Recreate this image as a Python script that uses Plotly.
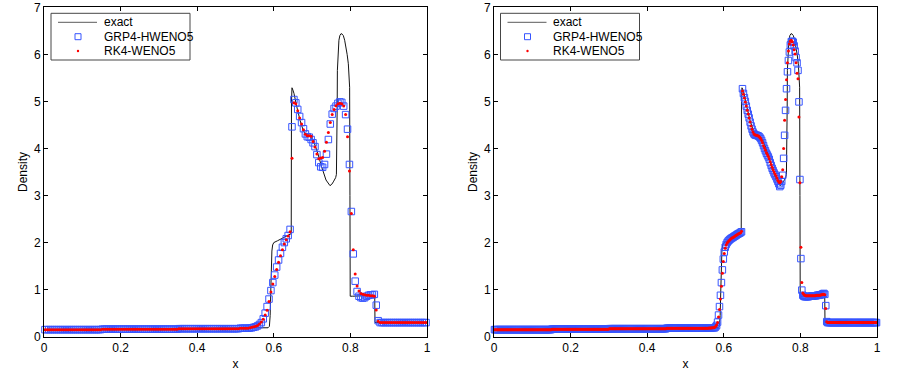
import numpy as np
import plotly.graph_objects as go

# ---------------- data ----------------
N_LEFT = 200
N_RIGHT = 400

x_tick_vals = [0, 0.2, 0.4, 0.6, 0.8, 1]
x_tick_text = ["0", "0.2", "0.4", "0.6", "0.8", "1"]
y_tick_vals = [0, 1, 2, 3, 4, 5, 6, 7]
y_tick_text = ["0", "1", "2", "3", "4", "5", "6", "7"]

series_names = ["exact", "GRP4-HWENO5", "RK4-WENO5"]

# exact (reference) solution
exact_x = [0.0, 0.1, 0.2, 0.3, 0.4, 0.5, 0.55, 0.585,
           0.5885, 0.5905, 0.592, 0.5935, 0.595, 0.597, 0.600,
           0.61, 0.62, 0.63, 0.64, 0.6455,
           0.6462, 0.6475, 0.650, 0.6527, 0.6597,
           0.6684, 0.677, 0.684, 0.690, 0.697,
           0.7031, 0.708, 0.7137, 0.7249, 0.7363,
           0.7467, 0.7515, 0.7554, 0.7615, 0.7635,
           0.7645, 0.7655, 0.766, 0.7675, 0.770,
           0.7725, 0.7755, 0.7785, 0.7815, 0.785,
           0.7885, 0.7915, 0.7946, 0.7965, 0.7980,
           0.7988, 0.7995, 0.805, 0.83, 0.8635,
           0.8642, 0.9, 1.0]
exact_y = [0.15, 0.155, 0.16, 0.165, 0.17, 0.175, 0.18, 0.19,
           0.22, 0.45, 0.95, 1.5, 1.82, 1.95, 2.0,
           2.04, 2.08, 2.12, 2.16, 2.19,
           5.0, 5.29, 5.24, 5.17, 4.9,
           4.6, 4.38, 4.3, 4.28, 4.24,
           4.17, 4.07, 3.93, 3.61, 3.33,
           3.21, 3.24, 3.29, 3.38, 3.45,
           3.9, 4.9, 5.66, 6.1, 6.3,
           6.4, 6.44, 6.43, 6.4, 6.3,
           6.16, 6.0, 5.8, 5.6, 5.3,
           3.0, 0.86, 0.86, 0.87, 0.88,
           0.3, 0.3, 0.3]

# ---- left panel (200 cells) ----
left_low = [  # cells 0..106
    0.15, 0.15, 0.15, 0.15, 0.15, 0.15, 0.15, 0.15, 0.15, 0.15,
    0.15, 0.15, 0.15, 0.15, 0.15, 0.15, 0.15, 0.15, 0.15, 0.15,
    0.15, 0.15, 0.15, 0.15, 0.15, 0.15, 0.15, 0.15, 0.15, 0.15,
    0.16, 0.16, 0.16, 0.16, 0.16, 0.16, 0.16, 0.16, 0.16, 0.16,
    0.16, 0.16, 0.16, 0.16, 0.16, 0.16, 0.16, 0.16, 0.16, 0.16,
    0.16, 0.16, 0.16, 0.16, 0.16, 0.16, 0.16, 0.16, 0.16, 0.16,
    0.16, 0.16, 0.16, 0.16, 0.16, 0.16, 0.16, 0.16, 0.16, 0.16,
    0.17, 0.17, 0.17, 0.17, 0.17, 0.17, 0.17, 0.17, 0.17, 0.17,
    0.17, 0.17, 0.17, 0.17, 0.17, 0.17, 0.17, 0.17, 0.17, 0.17,
    0.17, 0.17, 0.17, 0.17, 0.17, 0.17, 0.17, 0.17, 0.17, 0.17,
    0.17, 0.17, 0.18, 0.18, 0.18, 0.18, 0.18,
]
left_grp_mid = [  # cells 107..174
    0.185, 0.19, 0.20, 0.21, 0.23, 0.26, 0.30, 0.38, 0.50, 0.64,
    0.80, 0.98, 1.15, 1.31, 1.48, 1.63, 1.77, 1.90, 2.00, 2.08,
    2.15, 2.28, 4.46, 5.04, 4.97, 4.83, 4.68, 4.55, 4.42, 4.31,
    4.25, 4.24, 4.19, 4.12, 4.04, 3.87, 3.70, 3.61, 3.60, 3.66,
    3.88, 4.19, 4.52, 4.73, 4.85, 4.90, 4.96, 4.99, 4.98, 4.90,
    4.72, 4.41, 3.66, 2.66, 1.76, 1.18, 0.96, 0.86, 0.83, 0.82,
    0.83, 0.86, 0.88, 0.89, 0.89, 0.90, 0.67, 0.34,
]
left_rk4_mid = [  # cells 107..174
    0.19, 0.20, 0.21, 0.22, 0.24, 0.27, 0.31, 0.37, 0.46, 0.56,
    0.75, 0.95, 1.12, 1.28, 1.43, 1.58, 1.72, 1.85, 1.97, 2.06,
    2.14, 2.23, 3.79, 4.97, 4.95, 4.80, 4.65, 4.52, 4.40, 4.30,
    4.27, 4.27, 4.26, 4.15, 4.03, 3.88, 3.78, 3.80, 3.81, 3.94,
    4.13, 4.34, 4.55, 4.72, 4.83, 4.91, 4.95, 4.96, 4.95, 4.90,
    4.72, 4.25, 3.52, 2.62, 1.85, 1.33, 1.08, 0.97, 0.92, 0.90,
    0.89, 0.88, 0.88, 0.87, 0.87, 0.86, 0.57, 0.33,
]
left_tail = [  # cells 175..199
    0.30, 0.30, 0.30, 0.30, 0.30, 0.30, 0.30, 0.30, 0.30, 0.30,
    0.30, 0.30, 0.30, 0.30, 0.30, 0.30, 0.30, 0.30, 0.30, 0.30,
    0.30, 0.30, 0.30, 0.30, 0.30,
]

# ---- right panel (400 cells) ----
right_low = [  # cells 0..229
    0.15, 0.15, 0.15, 0.15, 0.15, 0.15, 0.15, 0.15, 0.15, 0.15,
    0.15, 0.15, 0.15, 0.15, 0.15, 0.15, 0.15, 0.15, 0.15, 0.15,
    0.15, 0.15, 0.15, 0.15, 0.15, 0.15, 0.15, 0.15, 0.15, 0.15,
    0.15, 0.15, 0.15, 0.15, 0.15, 0.15, 0.15, 0.15, 0.15, 0.15,
    0.15, 0.15, 0.15, 0.15, 0.15, 0.15, 0.15, 0.15, 0.15, 0.15,
    0.15, 0.15, 0.15, 0.15, 0.15, 0.15, 0.15, 0.15, 0.15, 0.15,
    0.16, 0.16, 0.16, 0.16, 0.16, 0.16, 0.16, 0.16, 0.16, 0.16,
    0.16, 0.16, 0.16, 0.16, 0.16, 0.16, 0.16, 0.16, 0.16, 0.16,
    0.16, 0.16, 0.16, 0.16, 0.16, 0.16, 0.16, 0.16, 0.16, 0.16,
    0.16, 0.16, 0.16, 0.16, 0.16, 0.16, 0.16, 0.16, 0.16, 0.16,
    0.16, 0.16, 0.16, 0.16, 0.16, 0.16, 0.16, 0.16, 0.16, 0.16,
    0.16, 0.16, 0.16, 0.16, 0.16, 0.16, 0.16, 0.16, 0.16, 0.16,
    0.17, 0.17, 0.17, 0.17, 0.17, 0.17, 0.17, 0.17, 0.17, 0.17,
    0.17, 0.17, 0.17, 0.17, 0.17, 0.17, 0.17, 0.17, 0.17, 0.17,
    0.17, 0.17, 0.17, 0.17, 0.17, 0.17, 0.17, 0.17, 0.17, 0.17,
    0.17, 0.17, 0.17, 0.17, 0.17, 0.17, 0.17, 0.17, 0.17, 0.17,
    0.17, 0.17, 0.17, 0.17, 0.17, 0.17, 0.17, 0.17, 0.17, 0.17,
    0.17, 0.17, 0.17, 0.17, 0.17, 0.17, 0.17, 0.17, 0.17, 0.17,
    0.18, 0.18, 0.18, 0.18, 0.18, 0.18, 0.18, 0.18, 0.18, 0.18,
    0.18, 0.18, 0.18, 0.18, 0.18, 0.18, 0.18, 0.18, 0.18, 0.18,
    0.18, 0.18, 0.18, 0.18, 0.18, 0.18, 0.18, 0.18, 0.18, 0.18,
    0.18, 0.18, 0.18, 0.18, 0.18, 0.18, 0.18, 0.18, 0.18, 0.18,
    0.18, 0.18, 0.18, 0.18, 0.185, 0.185, 0.185, 0.19, 0.19, 0.19,
]
right_grp_mid = [  # cells 230..347
    0.19, 0.21, 0.24, 0.31, 0.46, 0.64, 0.88, 1.15, 1.42, 1.65,
    1.80, 1.90, 1.96, 2.00, 2.03, 2.05, 2.07, 2.085, 2.10, 2.11,
    2.125, 2.14, 2.15, 2.165, 2.18, 2.19, 2.20, 2.215, 2.23, 5.27,
    5.17, 5.08, 5.00, 4.90, 4.81, 4.73, 4.65, 4.56, 4.48, 4.41,
    4.35, 4.31, 4.29, 4.28, 4.28, 4.27, 4.26, 4.24, 4.21, 4.17,
    4.12, 4.06, 4.00, 3.95, 3.90, 3.86, 3.82, 3.77, 3.70, 3.64,
    3.58, 3.53, 3.48, 3.44, 3.40, 3.35, 3.30, 3.25, 3.19, 3.22,
    3.30, 3.43, 3.79, 4.28, 4.81, 5.27, 5.63, 5.87, 6.05, 6.20,
    6.27, 6.28, 6.26, 6.18, 6.07, 5.93, 5.82, 5.66, 4.99, 3.34,
    1.66, 0.99, 0.88, 0.86, 0.85, 0.85, 0.85, 0.85, 0.85, 0.86,
    0.86, 0.86, 0.86, 0.87, 0.87, 0.87, 0.87, 0.88, 0.88, 0.88,
    0.89, 0.89, 0.90, 0.91, 0.92, 0.90, 0.66, 0.32,
]
right_rk4_mid = [  # cells 230..347
    0.20, 0.22, 0.25, 0.30, 0.42, 0.58, 0.80, 1.07, 1.35, 1.60,
    1.77, 1.88, 1.95, 1.99, 2.02, 2.04, 2.06, 2.08, 2.095, 2.11,
    2.12, 2.135, 2.15, 2.16, 2.175, 2.19, 2.20, 2.21, 2.24, 5.22,
    5.15, 5.07, 4.99, 4.90, 4.81, 4.73, 4.65, 4.56, 4.48, 4.41,
    4.35, 4.31, 4.29, 4.28, 4.28, 4.27, 4.26, 4.24, 4.21, 4.17,
    4.12, 4.06, 4.01, 3.96, 3.91, 3.87, 3.83, 3.78, 3.72, 3.66,
    3.60, 3.55, 3.50, 3.46, 3.42, 3.37, 3.32, 3.29, 3.27, 3.30,
    3.40, 3.55, 4.00, 4.60, 5.04, 5.46, 5.82, 6.07, 6.22, 6.28,
    6.30, 6.27, 6.20, 6.10, 6.01, 5.82, 5.60, 5.48, 4.67, 3.27,
    1.90, 1.15, 0.93, 0.90, 0.88, 0.87, 0.87, 0.87, 0.87, 0.87,
    0.87, 0.87, 0.87, 0.87, 0.87, 0.87, 0.88, 0.88, 0.88, 0.88,
    0.88, 0.89, 0.89, 0.90, 0.90, 0.89, 0.60, 0.32,
]
right_tail = [  # cells 348..399
    0.30, 0.30, 0.30, 0.30, 0.30, 0.30, 0.30, 0.30, 0.30, 0.30,
    0.30, 0.30, 0.30, 0.30, 0.30, 0.30, 0.30, 0.30, 0.30, 0.30,
    0.30, 0.30, 0.30, 0.30, 0.30, 0.30, 0.30, 0.30, 0.30, 0.30,
    0.30, 0.30, 0.30, 0.30, 0.30, 0.30, 0.30, 0.30, 0.30, 0.30,
    0.30, 0.30, 0.30, 0.30, 0.30, 0.30, 0.30, 0.30, 0.30, 0.30,
    0.30, 0.30,
]

# ---------------- assemble ----------------
left_x = (np.arange(N_LEFT) + 0.5) / N_LEFT
right_x = (np.arange(N_RIGHT) + 0.5) / N_RIGHT
left_grp = left_low + left_grp_mid + left_tail
left_rk4 = left_low + left_rk4_mid + left_tail
right_grp = right_low + right_grp_mid + right_tail
right_rk4 = right_low + right_rk4_mid + right_tail

FONT = "Liberation Sans, Arial, Helvetica, sans-serif"
FS = 12
BLUE = "rgb(55,85,255)"
RED = "rgb(255,0,0)"
LINE = "rgb(20,20,20)"

W, H = 899, 376


def px_x(p):
    return min(1.0, max(0.0, p / W))


def px_y(p):
    return min(1.0, max(0.0, 1 - p / H))


fig = go.Figure()

panels = [
    ("x", "y", left_x, left_grp, left_rk4),
    ("x2", "y2", right_x, right_grp, right_rk4),
]
for xa, ya, xs, grp, rk4 in panels:
    fig.add_trace(go.Scatter(
        x=exact_x, y=exact_y, mode="lines", name=series_names[0],
        line=dict(color=LINE, width=1), showlegend=False,
        xaxis=xa, yaxis=ya, cliponaxis=False))
    fig.add_trace(go.Scatter(
        x=xs, y=grp, mode="markers", name=series_names[1],
        marker=dict(symbol="square-open", size=6.5, color=BLUE,
                    line=dict(width=1, color=BLUE)), showlegend=False,
        xaxis=xa, yaxis=ya, cliponaxis=False))
    fig.add_trace(go.Scatter(
        x=xs, y=rk4, mode="markers", name=series_names[2],
        marker=dict(symbol="circle", size=3, color=RED, line=dict(width=0)),
        showlegend=False, xaxis=xa, yaxis=ya, cliponaxis=False))

y_dom = [px_y(336.7), px_y(7.3)]


def xaxis_cfg(dom, anchor):
    return dict(domain=dom, anchor=anchor, range=[0, 1], automargin=False,
                tickmode="array", tickvals=x_tick_vals, ticktext=x_tick_text,
                ticks="inside", ticklen=4, tickwidth=1, tickcolor="black",
                showline=True, linecolor="black", linewidth=1,
                mirror="allticks", showgrid=False, zeroline=False,
                ticklabeloverflow="allow",
                tickfont=dict(family=FONT, size=FS, color="black"),
                title=dict(text="x", font=dict(family=FONT, size=FS, color="black"),
                           standoff=5))


def yaxis_cfg(anchor):
    return dict(domain=y_dom, anchor=anchor, range=[0, 7], automargin=False,
                tickmode="array", tickvals=y_tick_vals, ticktext=y_tick_text,
                ticks="inside", ticklen=4, tickwidth=1, tickcolor="black",
                showline=True, linecolor="black", linewidth=1,
                mirror="allticks", showgrid=False, zeroline=False,
                ticklabeloverflow="allow",
                tickfont=dict(family=FONT, size=FS, color="black"),
                title=dict(text="Density", font=dict(family=FONT, size=FS, color="black"),
                           standoff=3))


# legends drawn as box, samples and labels at pixel positions
shapes = []
annotations = []
for left in (51, 500.5):
    shapes.append(dict(type="rect", xref="paper", yref="paper",
                       x0=px_x(left), x1=px_x(left + 139),
                       y0=px_y(60), y1=px_y(13.3),
                       line=dict(color="rgb(70,70,70)", width=1),
                       fillcolor="white", layer="above"))
    shapes.append(dict(type="line", xref="paper", yref="paper",
                       x0=px_x(left + 7), x1=px_x(left + 46),
                       y0=px_y(22.3), y1=px_y(22.3),
                       line=dict(color="rgb(90,90,90)", width=1), layer="above"))
    cx = left + 27
    shapes.append(dict(type="rect", xref="paper", yref="paper",
                       xsizemode="pixel", ysizemode="pixel",
                       xanchor=px_x(cx), yanchor=px_y(36.7),
                       x0=-3, x1=3, y0=-3, y1=3,
                       line=dict(color=BLUE, width=1), layer="above"))
    shapes.append(dict(type="circle", xref="paper", yref="paper",
                       xsizemode="pixel", ysizemode="pixel",
                       xanchor=px_x(cx), yanchor=px_y(51),
                       x0=-1.2, x1=1.2, y0=-1.2, y1=1.2,
                       fillcolor=RED, line=dict(color=RED, width=0), layer="above"))
    for name, ypx in zip(series_names, (22.3, 36.7, 51)):
        annotations.append(dict(text=name, xref="paper", yref="paper",
                                x=px_x(left + 50.5), y=px_y(ypx),
                                xanchor="left", yanchor="middle", showarrow=False,
                                font=dict(family=FONT, size=FS, color="black")))

fig.update_layout(
    width=W, height=H,
    margin=dict(l=0, r=0, t=0, b=0),
    paper_bgcolor="white", plot_bgcolor="white",
    font=dict(family=FONT, size=FS, color="black"),
    xaxis=xaxis_cfg([px_x(44), px_x(427)], "y"),
    yaxis=yaxis_cfg("x"),
    xaxis2=xaxis_cfg([px_x(494), px_x(877)], "y2"),
    yaxis2=yaxis_cfg("x2"),
    shapes=shapes,
    annotations=annotations,
    showlegend=False,
)

# remove the page's default body margin so the figure sits at the window origin
fig.write_html("out.html",
               config={"displayModeBar": False},
               post_script="document.body.style.margin='0px';"
                           "document.body.style.overflow='hidden';")
